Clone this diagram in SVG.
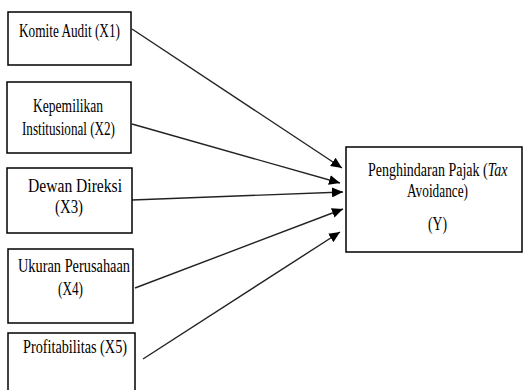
<svg xmlns="http://www.w3.org/2000/svg" width="524" height="390" viewBox="0 0 524 390">
<defs>
<style>
.box{fill:#fff;stroke:#000;stroke-width:1.5}
.t{font-family:"Liberation Serif","Times New Roman",serif;font-size:14px;fill:#000}
.c{stroke:#222;stroke-width:1.4;fill:none;marker-end:url(#ah)}
</style>
<marker id="ah" markerUnits="userSpaceOnUse" markerWidth="12" markerHeight="10" refX="11" refY="5" orient="auto">
<path d="M0,0 L11,5 L0,10 z" fill="#000"/>
</marker>
</defs>
<rect width="524" height="390" fill="#fff"/>
<g id="connectors">
<line class="c" x1="132" y1="29" x2="342" y2="168"/>
<line class="c" x1="132" y1="124" x2="340" y2="183"/>
<line class="c" x1="132" y1="200" x2="343" y2="192"/>
<line class="c" x1="135" y1="288" x2="343" y2="209"/>
<line class="c" x1="143" y1="359" x2="340" y2="232"/>
</g>
<g id="x1">
<rect class="box" x="8" y="12" width="123" height="53"/>
<text class="t" transform="translate(19,37) scale(1,1.36)" textLength="101" lengthAdjust="spacingAndGlyphs">Komite Audit (X1)</text>
</g>
<g id="x2">
<rect class="box" x="7" y="82" width="124" height="71"/>
<text class="t" transform="translate(33,112) scale(1,1.36)" textLength="70" lengthAdjust="spacingAndGlyphs">Kepemilikan</text>
<text class="t" transform="translate(22,135) scale(1,1.36)" textLength="93" lengthAdjust="spacingAndGlyphs">Institusional (X2)</text>
</g>
<g id="x3">
<rect class="box" x="7" y="168" width="125" height="65"/>
<text class="t" transform="translate(28,192) scale(1,1.36)" textLength="94" lengthAdjust="spacingAndGlyphs">Dewan Direksi</text>
<text class="t" transform="translate(55,213) scale(1,1.36)" textLength="28" lengthAdjust="spacingAndGlyphs">(X3)</text>
</g>
<g id="x4">
<rect class="box" x="8" y="249" width="125" height="74"/>
<text class="t" transform="translate(18,272) scale(1,1.36)" textLength="112" lengthAdjust="spacingAndGlyphs">Ukuran Perusahaan</text>
<text class="t" transform="translate(58,295) scale(1,1.36)" textLength="25" lengthAdjust="spacingAndGlyphs">(X4)</text>
</g>
<g id="x5">
<rect class="box" x="8" y="333" width="127" height="65"/>
<text class="t" transform="translate(23,353) scale(1,1.36)" textLength="104" lengthAdjust="spacingAndGlyphs">Profitabilitas (X5)</text>
</g>
<g id="y">
<rect class="box" x="346" y="147" width="176" height="105"/>
<text class="t" transform="translate(368,176) scale(1,1.36)">Penghindaran Pajak (<tspan font-style="italic">Tax</tspan></text>
<text class="t" transform="translate(407,197) scale(1,1.36)" textLength="61" lengthAdjust="spacingAndGlyphs">Avoidance)</text>
<text class="t" transform="translate(428,230) scale(1,1.36)" textLength="19" lengthAdjust="spacingAndGlyphs">(Y)</text>
</g>
</svg>
